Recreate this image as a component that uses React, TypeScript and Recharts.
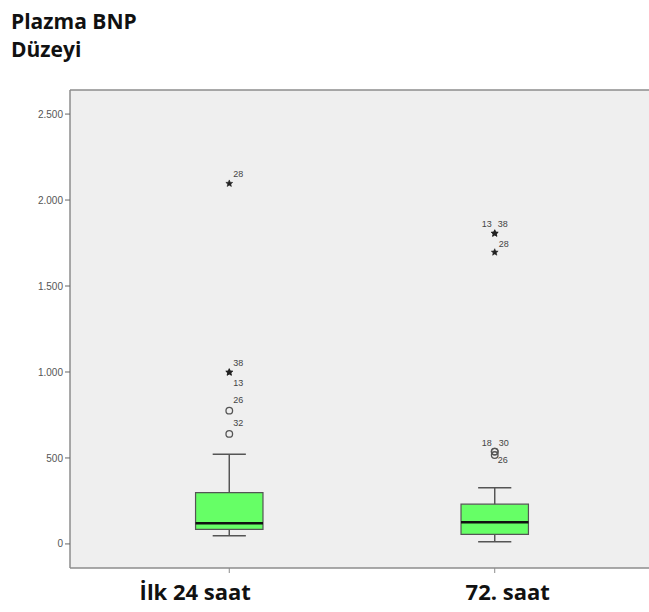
import React from "react"
import {
  ComposedChart, XAxis, YAxis, CartesianGrid, Scatter,
  ReferenceArea, ReferenceLine,
} from "recharts"

// categories and box statistics (pg/mL)
const categories = ["İlk 24 saat", "72. saat"]
const lowerWhisker = [48, 13]
const q1 = [85, 56]
const median = [120, 126]
const q3 = [298, 231]
const upperWhisker = [521, 327]

// outliers per category (id = case number)
const ilkOutliers = [
  { id: "28", v: 2096, kind: "extreme" },
  { id: "38", v: 998, kind: "extreme" },
  { id: "13", v: 998, kind: "extreme" },
  { id: "26", v: 775, kind: "outlier" },
  { id: "32", v: 640, kind: "outlier" },
]
const saat72Outliers = [
  { id: "13", v: 1806, kind: "extreme" },
  { id: "38", v: 1806, kind: "extreme" },
  { id: "28", v: 1696, kind: "extreme" },
  { id: "18", v: 537, kind: "outlier" },
  { id: "30", v: 537, kind: "outlier" },
  { id: "26", v: 517, kind: "outlier" },
]
const yTicks = [0, 500, 1000, 1500, 2000, 2500]

const Y_DOMAIN: [number, number] = [-140, 2640]
const X_DOMAIN: [number, number] = [0.4, 2.6]
const BOX_HALF = 0.127
const CAP_HALF = 0.0625

// label placement around markers: [dx, dy, anchor]
const labelPos: Record<string, [number, number, string]> = {
  "1-28": [4, -9, "start"],
  "1-38": [4, -9, "start"],
  "1-13": [4, 11, "start"],
  "1-26": [4, -10, "start"],
  "1-32": [4, -10, "start"],
  "2-13": [-3, -9, "end"],
  "2-38": [3, -9, "start"],
  "2-28": [4, -8, "start"],
  "2-18": [-3, -8, "end"],
  "2-30": [4, -8, "start"],
  "2-26": [3, 6, "start"],
}

const fmt = (v: number) => String(v).replace(/\B(?=(\d{3})+(?!\d))/g, ".")

const toPoints = (list: typeof ilkOutliers, cat: number) =>
  list.map((o) => ({ x: cat, y: o.v, id: o.id, kind: o.kind, cat }))

const OutlierShape = (props: any) => {
  const { cx, cy, payload } = props
  if (cx == null || cy == null) return null
  const pos = labelPos[`${payload.cat}-${payload.id}`] ?? [4, -8, "start"]
  let marker
  if (payload.kind === "extreme") {
    const pts: string[] = []
    for (let i = 0; i < 10; i++) {
      const r = i % 2 === 0 ? 3.6 : 1.6
      const a = -Math.PI / 2 + (i * Math.PI) / 5
      pts.push(`${cx + r * Math.cos(a)},${cy + r * Math.sin(a)}`)
    }
    marker = <polygon points={pts.join(" ")} fill="#222" stroke="#222" strokeWidth={0.6} />
  } else {
    marker = <circle cx={cx} cy={cy} r={3.3} fill="none" stroke="#555" strokeWidth={1.3} />
  }
  return (
    <g>
      {marker}
      <text
        x={cx + pos[0]}
        y={cy + pos[1]}
        textAnchor={pos[2] as any}
        dominantBaseline="middle"
        fontSize={9}
        fill="#444"
        fontFamily="Liberation Sans, Arial, sans-serif"
      >
        {payload.id}
      </text>
    </g>
  )
}

const labelShift = [-34, 13]

const XTick = (props: any) => {
  const { x, y, payload, index } = props
  return (
    <text
      x={x + (labelShift[index] ?? 0)}
      y={y + 19}
      textAnchor="middle"
      dominantBaseline="middle"
      fontSize={22}
      fontWeight="bold"
      fill="#111"
      fontFamily="Open Sans, sans-serif"
    >
      {categories[payload.value - 1]}
    </text>
  )
}

export default function App() {
  const axisColor = "#8c8c8c"
  const boxes = categories.map((_, i) => {
    const c = i + 1
    return (
      <React.Fragment key={c}>
        <ReferenceLine segment={[{ x: c, y: q3[i] }, { x: c, y: upperWhisker[i] }]} stroke="#555" strokeWidth={1.5} />
        <ReferenceLine segment={[{ x: c, y: lowerWhisker[i] }, { x: c, y: q1[i] }]} stroke="#555" strokeWidth={1.5} />
        <ReferenceLine segment={[{ x: c - CAP_HALF, y: upperWhisker[i] }, { x: c + CAP_HALF, y: upperWhisker[i] }]} stroke="#555" strokeWidth={1.5} />
        <ReferenceLine segment={[{ x: c - CAP_HALF, y: lowerWhisker[i] }, { x: c + CAP_HALF, y: lowerWhisker[i] }]} stroke="#555" strokeWidth={1.5} />
        <ReferenceArea x1={c - BOX_HALF} x2={c + BOX_HALF} y1={q1[i]} y2={q3[i]} fill="#66ff66" fillOpacity={1} stroke="#555" strokeWidth={1.2} />
        <ReferenceLine segment={[{ x: c - BOX_HALF, y: median[i] }, { x: c + BOX_HALF, y: median[i] }]} stroke="#111" strokeWidth={2.6} />
      </React.Fragment>
    )
  })

  return (
    <div style={{ position: "fixed", left: 0, top: 0, width: 649, height: 612, overflow: "hidden", background: "#fff" }}>
      <style>{"html,body{margin:0;padding:0;overflow:hidden}"}</style>
      <div style={{ position: "absolute", left: 0, top: 0, width: 660, height: 610 }}>
        <ComposedChart width={654} height={610} margin={{ top: 90, right: 0, left: 0, bottom: 0 }}>
          <CartesianGrid horizontal={false} vertical={false} fill="#efefef" />
          <XAxis
            type="number"
            dataKey="x"
            domain={X_DOMAIN}
            ticks={[1, 2]}
            allowDataOverflow
            height={42}
            axisLine={{ stroke: axisColor, strokeWidth: 1.5 }}
            tickLine={{ stroke: axisColor }}
            tickSize={5}
            tick={<XTick />}
          />
          <YAxis
            type="number"
            dataKey="y"
            domain={Y_DOMAIN}
            ticks={yTicks}
            allowDataOverflow
            width={70}
            axisLine={{ stroke: axisColor, strokeWidth: 1.5 }}
            tickLine={{ stroke: "#666" }}
            tickSize={5}
            tickFormatter={fmt}
            tick={{ fontSize: 10, fill: "#555", fontFamily: "Liberation Sans, Arial, sans-serif" }}
          />
          <ReferenceLine y={Y_DOMAIN[1]} stroke={axisColor} strokeWidth={1.5} ifOverflow="visible" />
          {boxes}
          <Scatter data={toPoints(ilkOutliers, 1)} shape={<OutlierShape />} isAnimationActive={false} />
          <Scatter data={toPoints(saat72Outliers, 2)} shape={<OutlierShape />} isAnimationActive={false} />
        </ComposedChart>
      </div>
      <div style={{ position: "absolute", left: 11, top: 7, fontFamily: "Open Sans, sans-serif", fontWeight: "bold", fontSize: 21, color: "#111", lineHeight: "28px" }}>
        <div>Plazma BNP</div>
        <div>Düzeyi</div>
      </div>
    </div>
  )
}
